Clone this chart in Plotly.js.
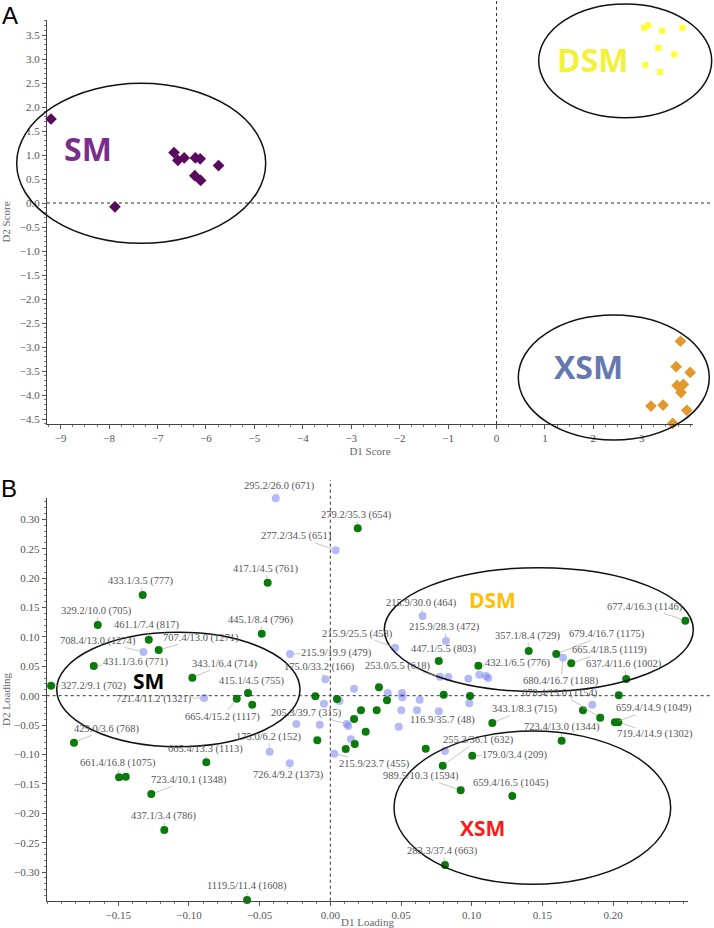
<!DOCTYPE html>
<html><head><meta charset="utf-8">
<script src="https://cdn.plot.ly/plotly-3.0.1.min.js"></script>
<style>html,body{margin:0;padding:0;background:#fff}#chart{width:714px;height:928px}</style>
</head><body><div id="chart"></div>
<script>
// ---------- Panel A : scores ----------
const smScoreX  = [-9.20, -7.88, -6.66, -6.58, -6.45, -6.22, -6.12, -5.74, -6.23, -6.11];
const smScoreY  = [1.75, -0.08, 1.05, 0.89, 0.94, 0.94, 0.92, 0.78, 0.57, 0.47];
const dsmScoreX = [3.05, 3.13, 3.38, 3.42, 3.84, 3.34, 3.67, 3.07, 3.38];
const dsmScoreY = [3.65, 3.70, 3.82, 3.59, 3.65, 3.23, 3.10, 2.88, 2.73];
const xsmScoreX = [3.80, 3.71, 4.00, 3.73, 3.86, 3.81, 3.19, 3.44, 3.93, 3.64];
const xsmScoreY = [-2.88, -3.41, -3.53, -3.80, -3.78, -3.95, -4.23, -4.21, -4.32, -4.59];
const scoreXTicks = [-9, -8, -7, -6, -5, -4, -3, -2, -1, 0, 1, 2, 3];
const scoreYTicks = [-4.5, -4, -3.5, -3, -2.5, -2, -1.5, -1, -0.5, 0, 0.5, 1, 1.5, 2, 2.5, 3, 3.5];

// ---------- Panel B : loadings ----------
const greenX = [-0.1327, 0.0194, -0.0443, -0.1645, -0.1284, -0.1214, -0.1673, -0.1975, -0.0976, -0.0485,
  -0.0582, -0.0662, -0.0552, -0.1813, -0.0877, -0.1494, -0.1447, -0.1266, -0.1174, -0.0589,
  -0.0106, 0.0047, 0.0344, 0.0401, 0.0217, 0.0328, 0.0168, 0.0250, 0.0173, 0.0109,
  -0.0092, 0.0675, 0.0795, 0.0767, 0.1047, 0.1403, 0.1598, 0.1704, 0.2093, 0.2511,
  0.1909, 0.2040, 0.1787, 0.1146, 0.2013, 0.2037, 0.1636, 0.1004, 0.0922, 0.1287,
  0.0811, 0.0802, 0.0988];
const greenY = [0.1713, 0.2847, 0.1922, 0.1202, 0.0952, 0.0777, 0.0505, 0.0170, 0.0306, 0.1054,
  0.0046, -0.0051, -0.0153, -0.0799, -0.1133, -0.1388, -0.1378, -0.1672, -0.2284, -0.3474,
  -0.0010, -0.0056, 0.0143, -0.0078, -0.0248, -0.0248, -0.0396, -0.0612, -0.0821, -0.0906,
  -0.0759, -0.0901, -0.1190, 0.0590, 0.0510, 0.0760, 0.0709, 0.0551, 0.0284, 0.1276,
  -0.0374, 0.0007, -0.0248, -0.0464, -0.0452, -0.0452, -0.0765, -0.1020, -0.1609, -0.1706,
  -0.2879, 0.0017, -0.0005];
const greenLabel = ['433.1/3.5 (777)', '279.2/35.3 (654)', '417.1/4.5 (761)', '329.2/10.0 (705)', '461.1/7.4 (817)',
  '707.4/13.0 (1271)', '431.1/3.6 (771)', '327.2/9.1 (702)', '343.1/6.4 (714)', '445.1/8.4 (796)',
  '415.1/4.5 (755)', '665.4/15.2 (1117)', '', '429.0/3.6 (768)', '665.4/13.3 (1113)',
  '661.4/16.8 (1075)', '', '723.4/10.1 (1348)', '437.1/3.4 (786)', '1119.5/11.4 (1608)',
  '', '', '', '', '', '', '', '', '', '',
  '', '', '255.3/36.1 (632)', '447.1/5.5 (803)', '432.1/6.5 (776)', '357.1/8.4 (729)', '679.4/16.7 (1175)',
  '665.4/18.5 (1119)', '637.4/11.6 (1002)', '677.4/16.3 (1146)', '678.4/13.0 (1154)', '', '',
  '343.1/8.3 (715)', '659.4/14.9 (1049)', '719.4/14.9 (1302)', '723.4/13.0 (1344)', '179.0/3.4 (209)',
  '989.5/10.3 (1594)', '659.4/16.5 (1045)', '283.3/37.4 (663)', '', ''];

const blueX = [-0.0386, 0.0038, -0.1322, -0.0893, -0.0285, -0.0035, 0.0458, 0.0776, 0.0653, 0.0818,
  0.0835, 0.0976, 0.1054, 0.1101, 0.1117, 0.1646, 0.1853, 0.0767, 0.0811, 0.0028,
  -0.0287, -0.0429, 0.0116, 0.0127, 0.0168, 0.0406, 0.0507, 0.0509, 0.0632, 0.0502,
  0.0613, 0.0484, 0.0064, -0.0045, -0.0240, -0.0075, 0.0146, 0.0983];
const blueY = [0.3357, 0.2473, 0.0743, -0.0039, 0.0709, 0.0279, 0.0816, 0.0323, 0.1355, 0.0930,
  0.0318, 0.0289, 0.0357, 0.0335, 0.0301, 0.0646, -0.0153, -0.0265, -0.0940, -0.0986,
  -0.1150, -0.0952, -0.0481, -0.0515, 0.0119, 0.0046, 0.0046, -0.0027, -0.0068, -0.0248,
  -0.0248, -0.0527, -0.0090, -0.0136, -0.0481, -0.0493, -0.0741, -0.0129];
const blueLabel = ['295.2/26.0 (671)', '277.2/34.5 (651)', '708.4/13.0 (1274)', '721.4/11.2 (1321)', '215.9/19.9 (479)',
  '175.0/33.2 (166)', '215.9/25.5 (458)', '253.0/5.5 (618)', '215.9/30.0 (464)', '215.9/28.3 (472)',
  '', '', '', '', '', '680.4/16.7 (1188)', '', '116.9/35.7 (48)', '', '215.9/23.7 (455)',
  '726.4/9.2 (1373)', '175.0/6.2 (152)', '205.3/39.7 (315)', '', '', '', '', '', '', '',
  '', '', '', '', '', '', '', ''];
const loadXTicks = [-0.15, -0.10, -0.05, 0.00, 0.05, 0.10, 0.15, 0.20];
const loadYTicks = [-0.30, -0.25, -0.20, -0.15, -0.10, -0.05, 0.00, 0.05, 0.10, 0.15, 0.20, 0.25, 0.30];

// label placement (pixel offsets of label centre from its point)
const labelOffset = {
  '433.1/3.5 (777)': [-2, -14], '279.2/35.3 (654)': [-1, -13], '417.1/4.5 (761)': [-2, -14],
  '329.2/10.0 (705)': [-1, -14], '461.1/7.4 (817)': [-2, -15], '707.4/13.0 (1271)': [42, -12],
  '431.1/3.6 (771)': [42, -4], '327.2/9.1 (702)': [43, 0], '343.1/6.4 (714)': [33, -14],
  '445.1/8.4 (796)': [-1, -14], '415.1/4.5 (755)': [4, -12], '665.4/15.2 (1117)': [-14, 18],
  '429.0/3.6 (768)': [33, -14], '665.4/13.3 (1113)': [-1, -13], '661.4/16.8 (1075)': [-1, -14],
  '723.4/10.1 (1348)': [38, -14], '437.1/3.4 (786)': [0, -14], '1119.5/11.4 (1608)': [0, -14],
  '255.3/36.1 (632)': [36, -26], '447.1/5.5 (803)': [5, -12], '432.1/6.5 (776)': [40, -3],
  '357.1/8.4 (729)': [-1, -15], '679.4/16.7 (1175)': [51, -20], '665.4/18.5 (1119)': [38, -13],
  '637.4/11.6 (1002)': [-2, -15], '677.4/16.3 (1146)': [-40, -14], '678.4/13.0 (1154)': [-40, -25],
  '343.1/8.3 (715)': [33, -14], '659.4/14.9 (1049)': [39, -14], '719.4/14.9 (1302)': [37, 12],
  '723.4/13.0 (1344)': [0, -14], '179.0/3.4 (209)': [43, -1], '989.5/10.3 (1594)': [-40, -14],
  '659.4/16.5 (1045)': [-1, -13], '283.3/37.4 (663)': [-2, -14],
  '295.2/26.0 (671)': [4, -12], '277.2/34.5 (651)': [-39, -14], '708.4/13.0 (1274)': [-45, -11],
  '721.4/11.2 (1321)': [-50, 1], '215.9/19.9 (479)': [46, -1], '175.0/33.2 (166)': [-6, -12],
  '215.9/25.5 (458)': [-38, -14], '253.0/5.5 (618)': [-42, -11], '215.9/30.0 (464)': [-1, -13],
  '215.9/28.3 (472)': [-1, -14], '680.4/16.7 (1188)': [-2, 23], '116.9/35.7 (48)': [4, 9],
  '215.9/23.7 (455)': [40, 10], '726.4/9.2 (1373)': [-1, 12], '175.0/6.2 (152)': [-1, -15],
  '205.3/39.7 (315)': [-40, -11]
};

const W = 714, H = 928;
const px = v => v / W, py = v => 1 - v / H;
const tickFont = {family: 'Liberation Serif, DejaVu Serif, serif', size: 11, color: '#555'};
const titleFont = {family: 'Liberation Serif, DejaVu Serif, serif', size: 11, color: '#666'};

const traces = [
  {x: smScoreX, y: smScoreY, xaxis: 'x', yaxis: 'y', mode: 'markers', type: 'scatter', cliponaxis: false,
   marker: {symbol: 'diamond', size: 9, color: '#5a0a5e'}},
  {x: dsmScoreX, y: dsmScoreY, xaxis: 'x', yaxis: 'y', mode: 'markers', type: 'scatter', cliponaxis: false,
   marker: {symbol: 'square', size: 6, color: '#ffff33'}},
  {x: xsmScoreX, y: xsmScoreY, xaxis: 'x', yaxis: 'y', mode: 'markers', type: 'scatter', cliponaxis: false,
   marker: {symbol: 'diamond', size: 9, color: '#e3982c'}},
  {x: blueX, y: blueY, xaxis: 'x2', yaxis: 'y2', mode: 'markers', type: 'scatter', cliponaxis: false,
   marker: {symbol: 'circle', size: 8, color: 'rgba(120,130,240,0.55)'}},
  {x: greenX, y: greenY, xaxis: 'x2', yaxis: 'y2', mode: 'markers', type: 'scatter', cliponaxis: false,
   marker: {symbol: 'circle', size: 8, color: '#0a7a0a'}}
];

function axisBase() {
  return {showgrid: false, zeroline: false, showline: true, linecolor: '#444', linewidth: 1,
    ticks: 'outside', ticklen: 4, tickcolor: '#555', tickfont: tickFont, mirror: false,
    minor: {ticks: 'outside', ticklen: 2, tickcolor: '#777'}};
}

const xa = Object.assign(axisBase(), {domain: [px(47), px(693)], anchor: 'y', range: [-9.283, 4.058],
  tickmode: 'array', tickvals: scoreXTicks, title: {text: 'D1 Score', font: titleFont, standoff: 4}});
xa.minor.dtick = 0.25;
const ya = Object.assign(axisBase(), {domain: [py(424), py(20)], anchor: 'x', range: [-4.604, 3.8125],
  tickmode: 'array', tickvals: scoreYTicks, tickformat: '.1f', title: {text: 'D2 Score', font: titleFont, standoff: 8}});
ya.minor.dtick = 0.1;
const xa2 = Object.assign(axisBase(), {domain: [px(46.7), px(688.3)], anchor: 'y2', range: [-0.2006, 0.2532],
  tickmode: 'array', tickvals: loadXTicks, tickformat: '.2f', title: {text: 'D1 Loading', font: titleFont, standoff: 2}});
xa2.minor.dtick = 0.01;
const ya2 = Object.assign(axisBase(), {domain: [py(900.7), py(498.3)], anchor: 'x2', range: [-0.3487, 0.3357],
  tickmode: 'array', tickvals: loadYTicks, tickformat: '.2f', title: {text: 'D2 Loading', font: titleFont, standoff: 4}});
ya2.minor.dtick = 0.01;

const dashLine = {color: '#333', width: 1, dash: 'dot'};
const ell = (x0, x1, y0, y1) => ({type: 'circle', xref: 'paper', yref: 'paper', x0: px(x0), x1: px(x1),
  y0: py(y1), y1: py(y0), line: {color: '#111', width: 1.5}, layer: 'above'});
const shapes = [
  {type: 'line', xref: 'paper', yref: 'y', x0: px(47), x1: px(713), y0: 0, y1: 0, line: dashLine},
  {type: 'line', xref: 'x', yref: 'paper', x0: 0, x1: 0, y0: py(424), y1: 1, line: dashLine},
  {type: 'line', xref: 'paper', yref: 'y2', x0: px(46.7), x1: px(710), y0: 0, y1: 0, line: dashLine},
  {type: 'line', xref: 'x2', yref: 'paper', x0: 0, x1: 0, y0: py(900.7), y1: py(480), line: dashLine},
  ell(16.7, 265.7, 83.3, 243.3),
  ell(538.7, 711.7, 4, 117.7),
  ell(518.3, 709.3, 315, 440),
  ell(56.7, 300, 632.3, 746.7),
  ell(384.3, 693.3, 567.7, 691.7),
  ell(394, 670.7, 731, 884.3)
];

const groupFont = (size, color) => ({family: 'Open Sans, Noto Sans, sans-serif', size: size, color: color});
const paperText = (text, x, y, font, yanchor) => ({text: text, xref: 'paper', yref: 'paper', x: px(x), y: py(y),
  xanchor: 'center', yanchor: yanchor || 'middle', showarrow: false, font: font});
const annotations = [
  paperText('A', 10, 0, {family: 'Liberation Sans, Arial, sans-serif', size: 24, color: '#000'}, 'top'),
  paperText('B', 9, 488, {family: 'Liberation Sans, Arial, sans-serif', size: 24, color: '#000'}),
  paperText('<b>SM</b>', 88, 148, groupFont(32, '#7b2d8e')),
  paperText('<b>DSM</b>', 592, 59, groupFont(32, '#f2f23a')),
  paperText('<b>XSM</b>', 588, 366, groupFont(32, '#6678b0')),
  paperText('<b>SM</b>', 148.3, 681, groupFont(21, '#000')),
  paperText('<b>DSM</b>', 492.8, 599.5, groupFont(21, '#ffc000')),
  paperText('<b>XSM</b>', 482.5, 828, groupFont(21, '#ff1a1a'))
];
const labelFont = {family: 'Liberation Serif, DejaVu Serif, serif', size: 10.5, color: '#555'};
function addLabels(xs, ys, labels) {
  labels.forEach((lab, i) => {
    if (!lab) return;
    const off = labelOffset[lab] || [0, -14];
    annotations.push({text: lab, xref: 'x2', yref: 'y2', x: xs[i], y: ys[i], ax: off[0], ay: off[1],
      showarrow: true, arrowhead: 0, arrowwidth: 0.7, arrowcolor: '#aaa', standoff: 4,
      font: labelFont, borderpad: 0});
  });
}
addLabels(greenX, greenY, greenLabel);
addLabels(blueX, blueY, blueLabel);

const layout = {width: W, height: H, margin: {l: 0, r: 0, t: 0, b: 0}, showlegend: false,
  paper_bgcolor: '#fff', plot_bgcolor: '#fff',
  xaxis: xa, yaxis: ya, xaxis2: xa2, yaxis2: ya2, shapes: shapes, annotations: annotations};

Plotly.newPlot('chart', traces, layout, {displayModeBar: false, staticPlot: true});
</script></body></html>
